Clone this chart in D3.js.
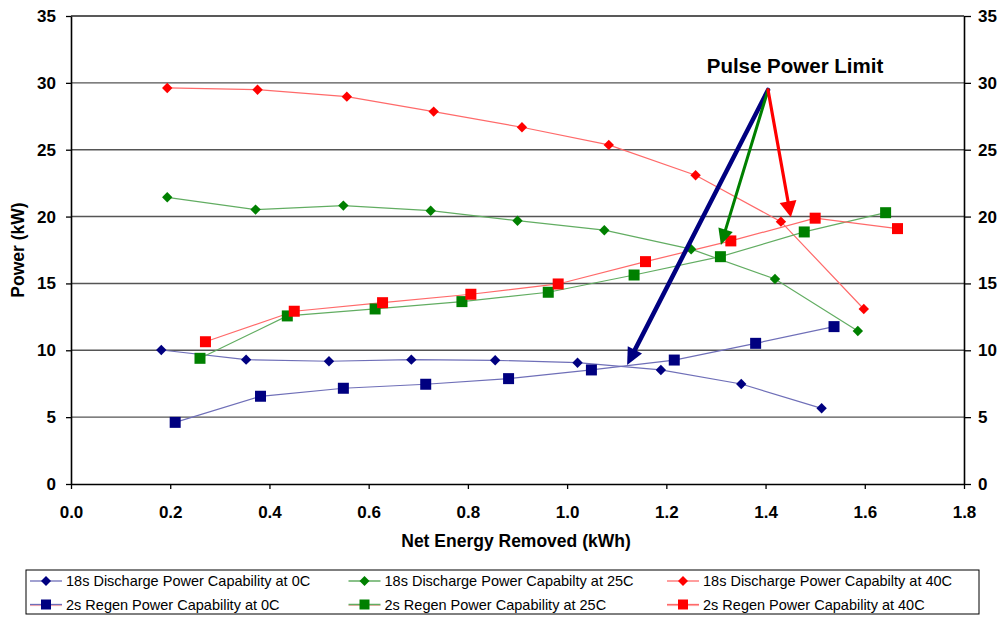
<!DOCTYPE html>
<html><head><meta charset="utf-8">
<script src="https://cdn.jsdelivr.net/npm/d3@7"></script>
<style>body{margin:0;background:#fff}svg{display:block;font-family:"Liberation Sans",Arial,sans-serif}</style>
</head><body><svg id="c" width="1003" height="617"></svg>
<script>
// ---- data ----
const xTicks = [0.0,0.2,0.4,0.6,0.8,1.0,1.2,1.4,1.6,1.8];
const yTicks = [0,5,10,15,20,25,30,35];

const dis0x  = [0.182,0.353,0.520,0.686,0.855,1.021,1.189,1.351,1.513];
const dis0y  = [10.02,9.30,9.18,9.30,9.25,9.07,8.53,7.48,5.66];
const reg0x  = [0.210,0.382,0.549,0.715,0.882,1.049,1.216,1.380,1.538];
const reg0y  = [4.61,6.56,7.16,7.46,7.88,8.53,9.27,10.52,11.77];
const dis25x = [0.194,0.372,0.549,0.725,0.900,1.075,1.250,1.419,1.586];
const dis25y = [21.44,20.52,20.82,20.44,19.69,18.98,17.56,15.33,11.44];
const reg25x = [0.260,0.436,0.613,0.788,0.962,1.135,1.309,1.478,1.642];
const reg25y = [9.40,12.57,13.09,13.64,14.34,15.63,17.00,18.85,20.29];
const dis40x = [0.194,0.376,0.556,0.731,0.909,1.084,1.259,1.431,1.598];
const dis40y = [29.62,29.49,28.97,27.85,26.68,25.36,23.09,19.62,13.09];
const reg40x = [0.271,0.450,0.628,0.806,0.982,1.158,1.330,1.500,1.666];
const reg40y = [10.64,12.92,13.56,14.19,14.96,16.63,18.18,19.88,19.10];

const seriesNames = [
  "18s Discharge Power Capability at 0C",
  "18s Discharge Power Capabilty at 25C",
  "18s Discharge Power Capabilty at 40C",
  "2s Regen Power Capability at 0C",
  "2s Regen Power Capability at 25C",
  "2s Regen Power Capability at 40C"
];
// annotation: arrows from a common origin to three tips (data coords)
const arrowOrigin = [1.405, 29.47];
const arrowTips = [[1.121, 8.90],[1.310, 17.87],[1.451, 19.95]];
const annotationText = "Pulse Power Limit";

// ---- build ----
const svg = d3.select("#c");
const x = d3.scaleLinear().domain([0,1.8]).range([71,964]);
const y = d3.scaleLinear().domain([0,35]).range([484,16]);

const series = [
  {name:seriesNames[0], xs:dis0x,  ys:dis0y,  marker:"diamond", fill:"#000080", line:"#6f6fb8"},
  {name:seriesNames[1], xs:dis25x, ys:dis25y, marker:"diamond", fill:"#008000", line:"#62ad62"},
  {name:seriesNames[2], xs:dis40x, ys:dis40y, marker:"diamond", fill:"#ff0000", line:"#ff6a6a"},
  {name:seriesNames[3], xs:reg0x,  ys:reg0y,  marker:"square",  fill:"#000080", line:"#6f6fb8"},
  {name:seriesNames[4], xs:reg25x, ys:reg25y, marker:"square",  fill:"#008000", line:"#62ad62"},
  {name:seriesNames[5], xs:reg40x, ys:reg40y, marker:"square",  fill:"#ff0000", line:"#ff6a6a"}
];

// gridlines
svg.append("g").selectAll("line").data(yTicks.filter(d=>d>0)).join("line")
  .attr("x1",x(0)).attr("x2",x(1.8)).attr("y1",d=>y(d)).attr("y2",d=>y(d))
  .attr("stroke",d=>d===35?"#222":"#555").attr("stroke-width",1.4);

// axes
const tickFont = "bold 17px 'Liberation Sans', Arial, sans-serif";
const gl = svg.append("g").attr("transform",`translate(${x(0)},0)`)
  .call(d3.axisLeft(y).tickValues(yTicks).tickSize(5).tickPadding(10).tickSizeOuter(0));
const gr = svg.append("g").attr("transform",`translate(${x(1.8)},0)`)
  .call(d3.axisRight(y).tickValues(yTicks).tickSize(7).tickPadding(7).tickSizeOuter(0));
const gb = svg.append("g").attr("transform",`translate(0,${y(0)})`)
  .call(d3.axisBottom(x).tickValues(xTicks).tickFormat(d3.format(".1f")).tickSize(5).tickPadding(17).tickSizeOuter(0));
[gl,gr,gb].forEach(g=>{
  g.selectAll("text").style("font",tickFont).attr("fill","#000");
  g.selectAll("line").attr("stroke","#000").attr("stroke-width",1.3);
  g.select(".domain").attr("stroke","#000").attr("stroke-width",1.6);
});
gr.select(".domain").attr("stroke","#000");

// axis titles
svg.append("text").attr("x",516).attr("y",547).attr("text-anchor","middle")
  .style("font","bold 17.5px 'Liberation Sans', Arial, sans-serif").text("Net Energy Removed (kWh)");
svg.append("text").attr("transform",`translate(24,${(y(0)+y(35))/2}) rotate(-90)`).attr("text-anchor","middle")
  .style("font","bold 17.5px 'Liberation Sans', Arial, sans-serif").text("Power (kW)");

// marker path
function markerPath(type,cx,cy,r){
  if(type==="diamond") return `M${cx},${cy-r}L${cx+r},${cy}L${cx},${cy+r}L${cx-r},${cy}Z`;
  return `M${cx-r},${cy-r}h${2*r}v${2*r}h${-2*r}Z`;
}

// series lines + markers
const line = d3.line().x(d=>x(d[0])).y(d=>y(d[1]));
series.forEach(s=>{
  const pts = s.xs.map((v,i)=>[v,s.ys[i]]);
  svg.append("path").attr("d",line(pts)).attr("fill","none").attr("stroke",s.line).attr("stroke-width",1.2);
});
series.forEach(s=>{
  const pts = s.xs.map((v,i)=>[v,s.ys[i]]);
  svg.append("g").selectAll("path").data(pts).join("path")
    .attr("d",d=>markerPath(s.marker,x(d[0]),y(d[1]),s.marker==="diamond"?5.2:5.5))
    .attr("fill",s.fill);
});

// arrows
const arrowColors = ["#000080","#008000","#ff0000"];
const arrowWidths = [4.5,3,3.2];
const headLen = [17,16,16], headW = [16,15,17];
arrowTips.forEach((t,i)=>{
  const x0=x(arrowOrigin[0]), y0=y(arrowOrigin[1]), x1=x(t[0]), y1=y(t[1]);
  const dx=x1-x0, dy=y1-y0, L=Math.hypot(dx,dy), ux=dx/L, uy=dy/L;
  const bx=x1-ux*headLen[i], by=y1-uy*headLen[i];
  svg.append("line").attr("x1",x0).attr("y1",y0).attr("x2",bx+ux*2).attr("y2",by+uy*2)
    .attr("stroke",arrowColors[i]).attr("stroke-width",arrowWidths[i]).attr("stroke-linecap","round");
  const px=-uy, py=ux, hw=headW[i]/2;
  svg.append("path").attr("d",`M${x1},${y1}L${bx+px*hw},${by+py*hw}L${bx-px*hw},${by-py*hw}Z`)
    .attr("fill",arrowColors[i]);
});
svg.append("text").attr("x",795).attr("y",73).attr("text-anchor","middle")
  .style("font","bold 20.5px 'Liberation Sans', Arial, sans-serif").text(annotationText);

// legend
const lg = svg.append("g");
lg.append("rect").attr("x",26).attr("y",570).attr("width",953).attr("height",44)
  .attr("fill","#fff").attr("stroke","#000").attr("stroke-width",1);
const colX = [30,348.5,667], rowY = [581,604.5];
series.forEach((s,i)=>{
  const cx = colX[i%3], cy = rowY[Math.floor(i/3)];
  if(s.marker==="square"){
    lg.append("line").attr("x1",cx).attr("x2",cx+32).attr("y1",cy+1).attr("y2",cy+1).attr("stroke","#ffb0b0").attr("stroke-width",1.2);
  }
  lg.append("line").attr("x1",cx).attr("x2",cx+32).attr("y1",cy).attr("y2",cy).attr("stroke",s.line).attr("stroke-width",1.3);
  lg.append("path").attr("d",markerPath(s.marker,cx+16,cy,s.marker==="diamond"?5:5)).attr("fill",s.fill);
  lg.append("text").attr("x",cx+36).attr("y",cy+5).style("font","14.5px 'Liberation Sans', Arial, sans-serif").text(s.name);
});
</script></body></html>
